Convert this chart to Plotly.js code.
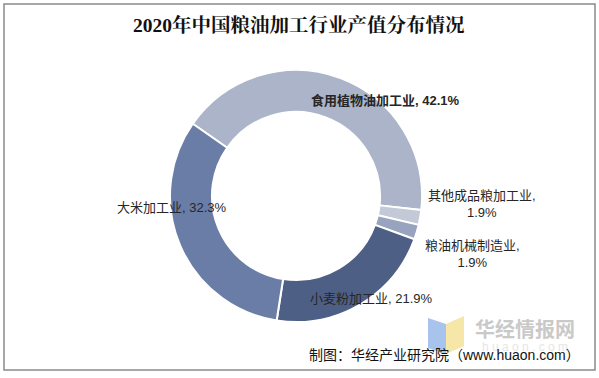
<!DOCTYPE html>
<html>
<head>
<meta charset="utf-8">
<script src="https://cdn.plot.ly/plotly-3.0.1.min.js"></script>
<style>html,body{margin:0;padding:0;background:#fff;}#chart{width:599px;height:378px;}</style>
</head>
<body>
<div id="chart"></div>
<script>
const titleText = "2020年中国粮油加工行业产值分布情况";
const categories = ["食用植物油加工业", "其他成品粮加工业", "粮油机械制造业", "小麦粉加工业", "大米加工业"];
const values = [42.1, 1.9, 1.9, 21.9, 32.3];
const colors = ["#abb4c8", "#c3c9d7", "#97a3bf", "#4e5f85", "#697da6"];
const sourceText = "制图：华经产业研究院（www.huaon.com）";

// label placement (paper coords) and style per category
const labelPos = [
  {x: 385, y: 100, bold: true, br: false},
  {x: 482, y: 204, bold: false, br: true},
  {x: 472, y: 254, bold: false, br: true},
  {x: 371, y: 298, bold: false, br: false},
  {x: 172, y: 207, bold: false, br: false}
];

const W = 599, H = 378;
const px = x => x / W;
const py = y => 1 - y / H;
const cx = 296, cy = 196, R = 126;

const fontCJK = '"Liberation Sans", Arial, "Noto Sans CJK SC", sans-serif';

const annotations = categories.map((c, i) => {
  const p = labelPos[i];
  let t = c + "," + (p.br ? "<br>" : " ") + values[i].toFixed(1) + "%";
  if (p.bold) t = "<b>" + t + "</b>";
  return {
    xref: "paper", yref: "paper", x: px(p.x), y: py(p.y),
    xanchor: "center", yanchor: "middle", showarrow: false,
    text: t, align: "center",
    font: {family: fontCJK, size: 13, color: "#262626"}
  };
});

annotations.push({
  xref: "paper", yref: "paper", x: px(299), y: py(25),
  xanchor: "center", yanchor: "middle", showarrow: false,
  text: "<b>" + titleText + "</b>",
  font: {family: '"Liberation Serif", "Noto Serif CJK SC", "Noto Sans CJK SC", serif', size: 19.5, color: "#111"}
});
// watermark
annotations.push({
  xref: "paper", yref: "paper", x: px(525), y: py(328),
  xanchor: "center", yanchor: "middle", showarrow: false,
  text: "<b>华经情报网</b>",
  font: {family: '"Noto Sans CJK SC", sans-serif', size: 20, color: "#c9c9c9"}
});
annotations.push({
  xref: "paper", yref: "paper", x: px(525), y: py(347),
  xanchor: "center", yanchor: "middle", showarrow: false,
  text: "h u a o n . c o m",
  font: {family: '"Liberation Sans", sans-serif', size: 12, color: "#e6e6e6"}
});
annotations.push({
  xref: "paper", yref: "paper", x: px(582), y: py(355),
  xanchor: "right", yanchor: "middle", showarrow: false,
  text: sourceText,
  font: {family: fontCJK, size: 14, color: "#111"}
});

const shapes = [
  {type: "rect", xref: "paper", yref: "paper", x0: px(4), x1: px(595), y0: py(4), y1: py(370),
   line: {color: "#8a8a8a", width: 1.5}, fillcolor: "rgba(0,0,0,0)"},
  {type: "path", xref: "paper", yref: "paper",
   path: `M ${px(428)} ${py(318)} L ${px(446)} ${py(324)} L ${px(446)} ${py(354)} L ${px(428)} ${py(348)} Z`,
   fillcolor: "#a8c4ec", line: {width: 0}, layer: "below"},
  {type: "path", xref: "paper", yref: "paper",
   path: `M ${px(446)} ${py(324)} L ${px(464)} ${py(316)} L ${px(464)} ${py(346)} L ${px(446)} ${py(354)} Z`,
   fillcolor: "#f6e6a8", line: {width: 0}, layer: "below"}
];

const trace = {
  type: "pie",
  labels: categories,
  values: values,
  hole: 0.667,
  sort: false,
  direction: "clockwise",
  rotation: -55,
  textinfo: "none",
  marker: {colors: colors, line: {color: "#ffffff", width: 2}},
  domain: {x: [px(cx - R), px(cx + R)], y: [py(cy + R), py(cy - R)]},
  showlegend: false,
  hoverinfo: "label+percent"
};

const layout = {
  width: W, height: H,
  margin: {l: 0, r: 0, t: 0, b: 0},
  paper_bgcolor: "#ffffff",
  showlegend: false,
  annotations: annotations,
  shapes: shapes
};

Plotly.newPlot("chart", [trace], layout, {displayModeBar: false, staticPlot: true});
</script>
</body>
</html>
